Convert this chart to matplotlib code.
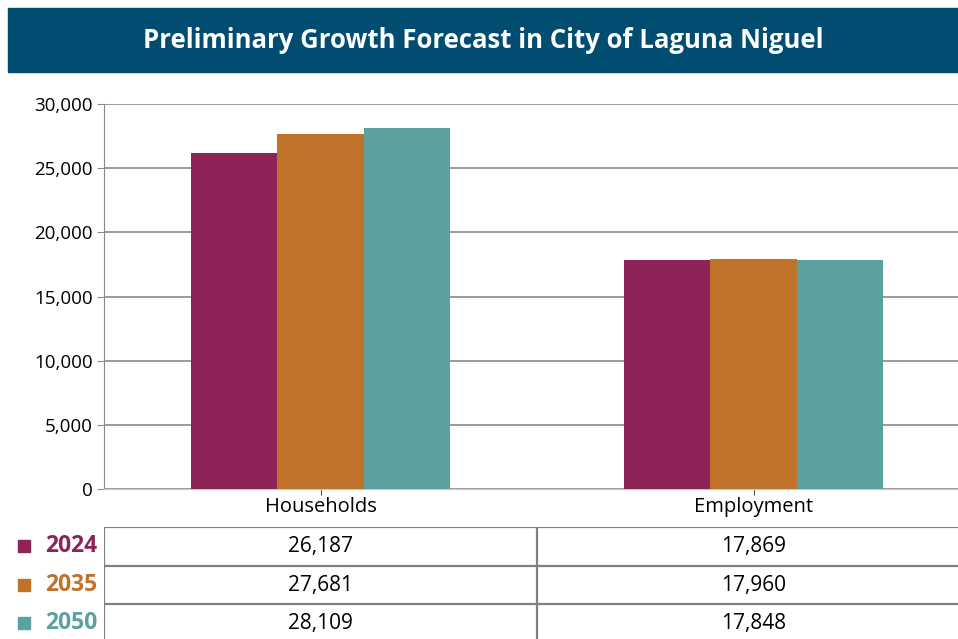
import matplotlib.pyplot as plt
from matplotlib.patches import Rectangle
import numpy as np

plt.rcParams['font.family'] = ['Open Sans', 'DejaVu Sans']

categories = ['Households', 'Employment']
years = ['2024', '2035', '2050']
values = {
    '2024': [26187, 17869],
    '2035': [27681, 17960],
    '2050': [28109, 17848],
}
colors = {'2024': '#8E2358', '2035': '#C0722A', '2050': '#5BA19E'}

W, H = 958, 639
fig = plt.figure(figsize=(W / 100, H / 100), dpi=100)

def px(x0, y0, x1, y1):
    # pixel box (top-left origin) -> figure fraction rect
    return [x0 / W, 1 - y1 / H, (x1 - x0) / W, (y1 - y0) / H]

# title banner
fig.patches.append(Rectangle((8 / W, 1 - 72 / H), (W - 8) / W, 64 / H,
                             transform=fig.transFigure, color='#004D71', zorder=0))
fig.text((8 + W) / 2 / W, 1 - 41 / H, 'Preliminary Growth Forecast in City of Laguna Niguel',
         color='white', fontsize=18.5, fontweight='bold', ha='center', va='center')

# main bar chart
ax = fig.add_axes(px(104, 104, 970, 489))
x = np.arange(len(categories))
bw = 0.2
for i, yr in enumerate(years):
    ax.bar(x + (i - 1) * bw, values[yr], width=bw, color=colors[yr], zorder=3)

ax.set_xlim(-0.5, 1.5)
ax.set_ylim(0, 30000)
ax.set_yticks(range(0, 30001, 5000))
ax.set_yticklabels([f'{v:,}' for v in range(0, 30001, 5000)], fontsize=13.5)
ax.set_xticks(x)
ax.set_xticklabels(categories, fontsize=14.5)
ax.yaxis.grid(True, color='#8a8a8a', linewidth=1.2, zorder=0)
for s in ['top', 'right']:
    ax.spines[s].set_visible(False)
ax.spines['left'].set_color('#8a8a8a')
ax.spines['bottom'].set_color('#c8c8c8')
ax.tick_params(axis='y', color='#8a8a8a', length=5, pad=3)
ax.tick_params(axis='x', color='#555555', length=4, pad=2)

# data table below
tab = fig.add_axes(px(104, 527, 970, 643))
tab.set_xlim(-0.5, 1.5)
tab.set_ylim(3, 0)
tab.axis('off')
lc = '#808080'
for r in range(3):
    tab.axhline(r, color=lc, linewidth=1.6)
for xv in [-0.5, 0.5]:
    tab.axvline(xv, color=lc, linewidth=1.6)
for r, yr in enumerate(years):
    for c in range(len(categories)):
        tab.text(c, r + 0.5, f'{values[yr][c]:,}', ha='center', va='center', fontsize=15)
    yc = 1 - (527 + 38.5 * (r + 0.5)) / H
    fig.patches.append(Rectangle((18 / W, yc - 6 / H), 12 / W, 12 / H,
                                 transform=fig.transFigure, color=colors[yr]))
    fig.text(45 / W, yc, yr, color=colors[yr], fontsize=16.5, fontweight='bold',
             ha='left', va='center')

plt.savefig('out.png', dpi=100)
